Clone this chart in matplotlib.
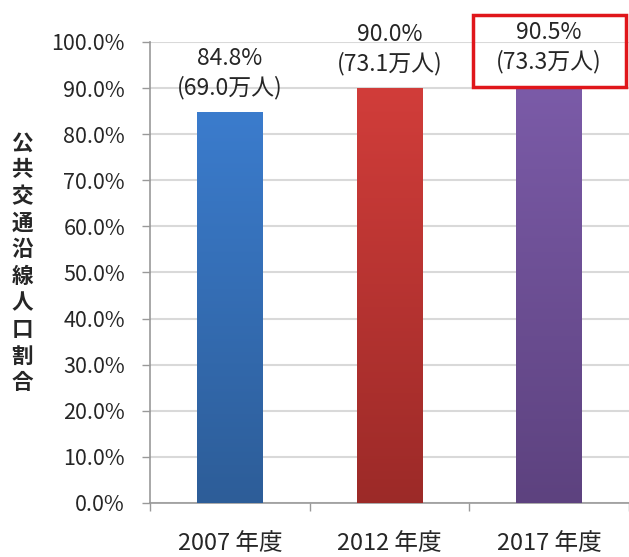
import matplotlib
matplotlib.use("Agg")
import matplotlib.pyplot as plt
import numpy as np
from matplotlib.patches import Rectangle
from matplotlib.colors import LinearSegmentedColormap

plt.rcParams['font.family'] = ['Noto Sans CJK JP', 'DejaVu Sans']

categories = ["2007 年度", "2012 年度", "2017 年度"]
shares = [84.8, 90.0, 90.5]
people = ["69.0万人", "73.1万人", "73.3万人"]
top_colors = ["#3b7ccd", "#d13d3a", "#7b5ba8"]
bottom_colors = ["#2d5d98", "#9c2a28", "#5d427f"]
yticks = [0, 10, 20, 30, 40, 50, 60, 70, 80, 90, 100]
ylabel = "公共交通沿線人口割合"
highlight = 2

fig = plt.figure(figsize=(6.29, 5.57), dpi=100)
ax = fig.add_axes([0.2385, 0.097, 0.7615, 0.8276])

x = np.arange(len(categories))
bars = ax.bar(x, shares, width=0.41, color=top_colors, zorder=3)

grad = np.linspace(0, 1, 256).reshape(-1, 1)
for b, c1, c2 in zip(bars, top_colors, bottom_colors):
    cmap = LinearSegmentedColormap.from_list("g", [c2, c1])
    bx, by = b.get_x(), b.get_y()
    w, h = b.get_width(), b.get_height()
    im = ax.imshow(grad, cmap=cmap, aspect='auto', origin='lower',
                   extent=[bx, bx + w, by, by + h], zorder=4)
    im.set_clip_path(b)

ax.set_xlim(-0.5, len(categories) - 0.5)
ax.set_ylim(0, 100)

ax.set_yticks(yticks)
ax.set_yticklabels([f"{v:.1f}%" for v in yticks], fontsize=15.5, color="#262626")
ax.tick_params(axis='y', length=6, color="#999999", pad=12, width=1)
ax.yaxis.grid(True, color="#d9d9d9", linewidth=1.5, zorder=0)
ax.set_axisbelow(True)

ax.set_xticks(x)
ax.set_xticklabels(categories, fontsize=17, color="#262626")
ax.tick_params(axis='x', length=0, pad=21)
ax.set_xticks(np.arange(-0.5, len(categories), 1.0), minor=True)
ax.tick_params(axis='x', which='minor', length=6, color="#999999", width=1)

for s in ['top', 'right']:
    ax.spines[s].set_visible(False)
ax.spines['left'].set_color("#999999")
ax.spines['bottom'].set_color("#999999")
ax.spines['left'].set_linewidth(1.2)
ax.spines['bottom'].set_linewidth(1.2)

for i, (v, p) in enumerate(zip(shares, people)):
    ax.annotate(f"{v:.1f}%\n({p})", xy=(x[i], v), xytext=(0, 28),
                textcoords='offset points', ha='center', va='center',
                fontsize=16.5, color="#262626", linespacing=1.3, zorder=6)

# highlight box around the last label
ax.add_patch(Rectangle((x[highlight] - 0.48, 90.2), 0.96, 15.6, fill=False,
                       edgecolor="#e0161b", linewidth=2.5, clip_on=False, zorder=7))

fig.text(0.035, 0.528, "\n".join(ylabel), ha='center', va='center',
         fontsize=15.5, fontweight='bold', color="#262626", linespacing=1.33)

fig.savefig("out.png", dpi=100)
